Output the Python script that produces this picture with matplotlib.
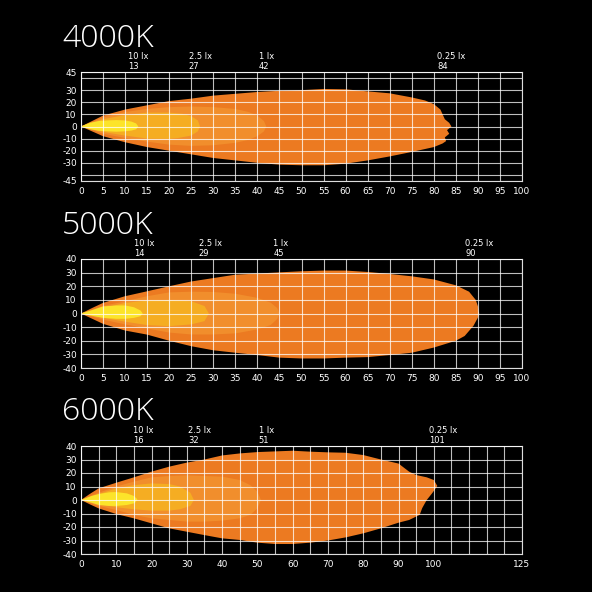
import matplotlib
matplotlib.use("Agg")
import matplotlib.pyplot as plt
from matplotlib.patches import Polygon

# colour temperature titles and isolux labels
titles = ["4000K", "5000K", "6000K"]
lux_names = ["10 lx", "2.5 lx", "1 lx", "0.25 lx"]
reach_4000 = [13, 27, 42, 84]
reach_5000 = [14, 29, 45, 90]
reach_6000 = [16, 32, 51, 101]

# isolux outlines (distance m, width m)
k4000_lx025 = [(0, 0), (2.5, 4.5), (5, 9), (10, 14), (15, 17.5), (20, 21), (25, 23), (30, 25.5),
               (35, 27), (40, 28.5), (45, 29.5), (50, 30), (55, 31), (60, 30.7), (65, 29), (70, 27.4),
               (75, 24), (78, 21.5), (80, 18.5), (81.5, 14), (82, 10), (82.5, 6), (83.5, 3), (84, 0),
               (83, -3), (83.5, -6), (82.5, -9), (82.8, -12), (82, -14), (80, -17), (75, -21),
               (70, -24.7), (65, -28), (60, -30.7), (55, -32), (50, -32), (45, -31.5), (40, -30),
               (35, -28), (30, -26), (25, -23), (20, -20), (15, -17), (10, -13), (5, -8), (2.5, -4)]
k4000_lx1 = [(0, 0), (5, 7.5), (10, 12), (15, 14.5), (20, 16), (25, 16.5), (30, 16), (35, 14.5),
             (38, 12), (40, 9), (41.5, 4.5), (42, 0), (41.5, -4), (40, -8), (38, -11), (35, -13.5),
             (30, -15.5), (25, -16), (20, -15), (15, -12.5), (10, -9.5), (5, -6)]
k4000_lx25 = [(0, 0), (5, 6), (10, 9.5), (15, 11.5), (20, 11.5), (23, 10.5), (25, 8.5), (26.5, 5),
              (27, 0), (26.5, -4), (25, -7.5), (22, -9.5), (20, -10.2), (15, -10), (10, -7.5), (5, -4.5)]
k4000_lx10 = [(0, 0), (2, 3), (4, 4.5), (6, 5), (8, 5.3), (10, 5), (11.5, 4), (12.5, 2.5), (13, 0),
              (12.5, -2.3), (11.5, -3.3), (10, -4), (8, -4.3), (6, -4), (4, -3.5), (2, -2.2)]

k5000_lx025 = [(0, 0), (2.5, 4), (5, 7.8), (10, 12.7), (15, 16.3), (20, 20), (25, 23.5), (30, 26),
               (35, 28.5), (40, 29.3), (45, 30.2), (50, 31), (55, 31.5), (60, 31.5), (65, 30.5),
               (70, 29), (75, 27.3), (80, 25), (85, 20.7), (88, 16), (89.5, 10), (90, 5.4), (90.3, 0),
               (90, -3), (89, -9), (87, -16.5), (85, -20), (80, -25), (75, -28.8), (70, -30.5),
               (65, -32), (60, -32.4), (55, -33), (50, -33), (45, -32.4), (40, -30.5), (35, -28.8),
               (30, -27), (25, -24), (20, -20), (15, -15.5), (10, -12.5), (5, -7.6), (2.5, -3.8)]
k5000_lx1 = [(0, 0), (5, 5.5), (10, 9), (15, 12.7), (20, 15.5), (25, 16), (30, 15.8), (35, 14.5),
             (40, 11.5), (43, 8), (44.5, 4), (45, 0), (44.5, -4), (43, -8.5), (40, -11.7), (35, -14.6),
             (30, -15.4), (25, -15.4), (20, -14), (15, -11), (10, -8), (5, -4.5)]
k5000_lx25 = [(0, 0), (5, 4), (10, 7.8), (15, 9.5), (20, 10), (25, 9), (28, 5.5), (29, 0), (28, -5.6),
              (25, -8), (20, -9.3), (15, -8.5), (10, -6), (5, -3.2)]
k5000_lx10 = [(0, 0), (3, 3), (5, 5.2), (8, 5.9), (10, 5.9), (12, 4.6), (13.5, 2.2), (14, 0),
              (13.5, -2), (12, -3.2), (10, -3.9), (8, -3.9), (5, -3.2), (3, -2)]

k6000_lx025 = [(0, 0), (2.5, 4.5), (5, 8.6), (10, 12.8), (15, 16.8), (20, 21), (25, 24.7), (30, 27.7),
               (35, 30), (40, 33), (45, 34.5), (50, 35.5), (55, 36), (60, 36.5), (65, 35.8), (70, 35.3),
               (75, 35), (80, 33.3), (85, 30), (90, 27), (93, 21), (95, 18.5), (98, 16.8), (100, 14.8),
               (101, 10.4), (99.5, 4.9), (98, 0), (97.2, -3.7), (96.7, -6.1), (96, -11), (93, -14.8),
               (90, -16.8), (85, -21), (80, -24.7), (75, -27.7), (70, -30), (65, -31.6), (60, -32.6),
               (55, -32.6), (50, -31.6), (45, -29.6), (40, -28.4), (35, -26), (30, -23.5), (25, -21),
               (20, -17.3), (15, -13.6), (10, -10.4), (5, -6.2), (2.5, -3.2)]
k6000_lx1 = [(0, 0), (5, 5.4), (10, 10), (15, 13.6), (20, 16.8), (25, 17.8), (30, 18.3), (35, 17.8),
             (40, 17.3), (45, 14.8), (48, 11), (50, 6.2), (51, 0), (50, -6.2), (48, -11), (45, -13.6),
             (40, -15.3), (35, -16), (30, -16), (25, -14.8), (20, -13.6), (15, -11), (10, -7.4), (5, -4.4)]
k6000_lx25 = [(0, 0), (5, 4.4), (10, 8.6), (15, 11), (20, 12.3), (25, 11.8), (28, 10), (31, 5.4),
              (32, 0), (31, -4.4), (28, -6.9), (25, -7.9), (20, -7.9), (15, -6.9), (10, -5.4), (5, -3)]
k6000_lx10 = [(0, 0), (3, 3), (5, 4.4), (8, 5.7), (10, 5.9), (13, 4.9), (15, 3), (16, 0.5),
              (15.5, -1.5), (15, -2.5), (13, -3.7), (10, -4.4), (8, -4.4), (5, -3.7), (3, -2)]

# axis ticks
x_ticks_100 = list(range(0, 101, 5))
x_labels_100 = [str(v) for v in x_ticks_100]
x_ticks_125 = list(range(0, 126, 5))
x_labels_125 = [str(v) if (v % 10 == 0 and v <= 100) or v == 125 else "" for v in x_ticks_125]
y_ticks_45 = [-45, -40, -30, -20, -10, 0, 10, 20, 30, 40, 45]
y_labels_45 = ["-45", "", "-30", "-20", "-10", "0", "10", "20", "30", "", "45"]
y_ticks_40 = list(range(-40, 41, 10))
y_labels_40 = [str(v) for v in y_ticks_40]

fill_colors = ["#EC7A21", "#F18E2C", "#F5AD22", "#FCE42A"]

panels = [
    dict(title=titles[0], shapes=[k4000_lx025, k4000_lx1, k4000_lx25, k4000_lx10], reach=reach_4000,
         xlim=100, xt=x_ticks_100, xl=x_labels_100, ylim=45, yt=y_ticks_45, yl=y_labels_45,
         rect=[81, 72, 522, 181], tbase=47, shift=0),
    dict(title=titles[1], shapes=[k5000_lx025, k5000_lx1, k5000_lx25, k5000_lx10], reach=reach_5000,
         xlim=100, xt=x_ticks_100, xl=x_labels_100, ylim=40, yt=y_ticks_40, yl=y_labels_40,
         rect=[81, 259, 522, 368], tbase=234, shift=1),
    dict(title=titles[2], shapes=[k6000_lx025, k6000_lx1, k6000_lx25, k6000_lx10], reach=reach_6000,
         xlim=125, xt=x_ticks_125, xl=x_labels_125, ylim=40, yt=y_ticks_40, yl=y_labels_40,
         rect=[81, 446, 522, 554], tbase=420, shift=4),
]

W = H = 592
fig = plt.figure(figsize=(W / 100, H / 100), dpi=100, facecolor="black")

for p in panels:
    l, t, r, b = p["rect"]
    ax = fig.add_axes([l / W, 1 - b / H, (r - l) / W, (b - t) / H], facecolor="black")
    for shape, c in zip(p["shapes"], fill_colors):
        ax.add_patch(Polygon(shape, closed=True, facecolor=c, edgecolor="none", zorder=1))
    ax.set_xlim(0, p["xlim"])
    ax.set_ylim(-p["ylim"], p["ylim"])
    ax.set_xticks(p["xt"])
    ax.set_xticklabels(p["xl"])
    ax.set_yticks(p["yt"])
    ax.set_yticklabels(p["yl"])
    ax.tick_params(length=0, colors="white", labelsize=6.5)
    ax.tick_params(axis="x", pad=4)
    ax.tick_params(axis="y", pad=3)
    ax.set_axisbelow(False)
    ax.grid(True, color="white", alpha=0.75, linewidth=0.8)
    for s in ax.spines.values():
        s.set_color("#dddddd")
        s.set_linewidth(0.8)
    for name, d in zip(lux_names, p["reach"]):
        ax.annotate(f"{name}\n{d}", xy=(d, 1), xycoords=("data", "axes fraction"),
                    xytext=(p["shift"], 1), textcoords="offset points", ha="center", va="bottom",
                    multialignment="left", fontsize=6, color="white", linespacing=1.05)
    fig.text(62 / W, 1 - p["tbase"] / H, p["title"], ha="left", va="baseline", color="white",
             fontsize=23, family="Open Sans", fontweight="light")

fig.savefig("out.png", dpi=100, facecolor="black")
